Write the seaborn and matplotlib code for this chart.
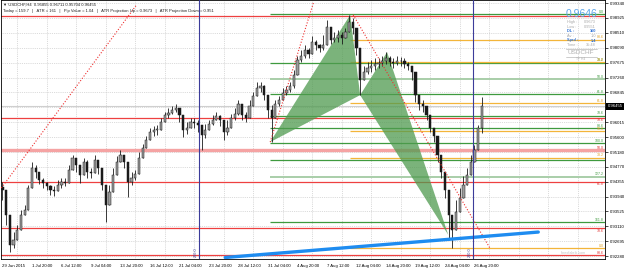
import matplotlib
matplotlib.use("Agg")
import matplotlib.pyplot as plt
import numpy as np
import pandas as pd
import seaborn as sns

# ---------------- data (USDCHF H4, one candle = 2 x H4 bars) ----------------
x_labels = ["29 Jun 2015", "1 Jul 20:00", "6 Jul 12:00", "9 Jul 04:00", "13 Jul 20:00",
            "16 Jul 12:00", "21 Jul 04:00", "23 Jul 20:00", "28 Jul 12:00", "31 Jul 04:00",
            "4 Aug 20:00", "7 Aug 12:00", "12 Aug 04:00", "14 Aug 20:00", "19 Aug 12:00",
            "24 Aug 04:00", "26 Aug 20:00"]
y_labels = ["0.99340", "0.98925", "0.98510", "0.98090", "0.97675", "0.97260", "0.96845",
            "0.96430", "0.96015", "0.95600", "0.95180", "0.94770", "0.94355", "0.93940",
            "0.93525", "0.93110", "0.92695", "0.92280"]

first_open = 0.9420
close = [0.9412, 0.9343, 0.9259, 0.9273, 0.9301, 0.9343, 0.9357, 0.9418, 0.9474, 0.9463,
         0.9440, 0.9432, 0.9423, 0.9412, 0.9410, 0.9426, 0.9435, 0.9432, 0.9468, 0.9502,
         0.9482, 0.9454, 0.9490, 0.9463, 0.9460, 0.9496, 0.9474, 0.9426, 0.9370, 0.9407,
         0.9454, 0.9490, 0.9510, 0.9490, 0.9435, 0.9446, 0.9457, 0.9502, 0.9529, 0.9552,
         0.9574, 0.9580, 0.9580, 0.9602, 0.9622, 0.9627, 0.9636, 0.9641, 0.9622, 0.9580,
         0.9585, 0.9602, 0.9599, 0.9594, 0.9566, 0.9580, 0.9596, 0.9608, 0.9619, 0.9608,
         0.9574, 0.9585, 0.9613, 0.9624, 0.9652, 0.9622, 0.9613, 0.9647, 0.9675, 0.9697,
         0.9702, 0.9677, 0.9636, 0.9613, 0.9652, 0.9663, 0.9683, 0.9691, 0.9702, 0.9733,
         0.9775, 0.9786, 0.9803, 0.9792, 0.9825, 0.9817, 0.9808, 0.9817, 0.9867, 0.9831,
         0.9836, 0.9845, 0.9836, 0.9853, 0.9881, 0.9864, 0.9808, 0.9719, 0.9742, 0.9753,
         0.9758, 0.9764, 0.9767, 0.9772, 0.9781, 0.9769, 0.9767, 0.9772, 0.9772, 0.9764,
         0.9758, 0.9742, 0.9677, 0.9652, 0.9647, 0.9622, 0.9585, 0.9563, 0.9510, 0.9463,
         0.9412, 0.9343, 0.9301, 0.9351, 0.9390, 0.9426, 0.9454, 0.9490, 0.9524, 0.9586,
         0.96455]
high = [0.9435, 0.9370, 0.9287, 0.9295, 0.9315, 0.9357, 0.9370, 0.9426, 0.9490, 0.9482,
        0.9454, 0.9446, 0.9435, 0.9426, 0.9423, 0.9440, 0.9446, 0.9446, 0.9482, 0.9510,
        0.9496, 0.9482, 0.9502, 0.9496, 0.9474, 0.9510, 0.9490, 0.9468, 0.9412, 0.9426,
        0.9474, 0.9507, 0.9524, 0.9510, 0.9482, 0.9463, 0.9468, 0.9518, 0.9541, 0.9563,
        0.9585, 0.9591, 0.9594, 0.9613, 0.9630, 0.9641, 0.9647, 0.9652, 0.9641, 0.9622,
        0.9602, 0.9613, 0.9613, 0.9608, 0.9594, 0.9596, 0.9608, 0.9622, 0.9630, 0.9622,
        0.9602, 0.9608, 0.9624, 0.9641, 0.9663, 0.9641, 0.9630, 0.9663, 0.9686, 0.9714,
        0.9714, 0.9705, 0.9669, 0.9649, 0.9663, 0.9675, 0.9697, 0.9702, 0.9714, 0.9747,
        0.9786, 0.9803, 0.9817, 0.9808, 0.9842, 0.9831, 0.9820, 0.9845, 0.9887, 0.9859,
        0.9853, 0.9859, 0.9853, 0.9864, 0.9901, 0.9892, 0.9859, 0.9803, 0.9758, 0.9769,
        0.9775, 0.9781, 0.9781, 0.9786, 0.9797, 0.9786, 0.9781, 0.9786, 0.9783, 0.9781,
        0.9769, 0.9758, 0.9733, 0.9669, 0.9663, 0.9641, 0.9622, 0.9580, 0.9552, 0.9496,
        0.9451, 0.9398, 0.9343, 0.9384, 0.9418, 0.9451, 0.9474, 0.9510, 0.9538, 0.9594,
        0.96711]
low = [0.9384, 0.9315, 0.9239, 0.9250, 0.9284, 0.9323, 0.9343, 0.9370, 0.9440, 0.9446,
       0.9429, 0.9418, 0.9412, 0.9398, 0.9396, 0.9412, 0.9418, 0.9423, 0.9440, 0.9482,
       0.9463, 0.9432, 0.9468, 0.9446, 0.9446, 0.9479, 0.9457, 0.9412, 0.9323, 0.9384,
       0.9407, 0.9468, 0.9490, 0.9474, 0.9393, 0.9426, 0.9440, 0.9482, 0.9507, 0.9529,
       0.9552, 0.9563, 0.9566, 0.9585, 0.9608, 0.9613, 0.9624, 0.9630, 0.9602, 0.9560,
       0.9569, 0.9585, 0.9585, 0.9574, 0.9524, 0.9557, 0.9580, 0.9594, 0.9608, 0.9591,
       0.9552, 0.9566, 0.9596, 0.9608, 0.9622, 0.9608, 0.9602, 0.9613, 0.9658, 0.9677,
       0.9686, 0.9663, 0.9613, 0.9546, 0.9630, 0.9647, 0.9669, 0.9677, 0.9686, 0.9697,
       0.9742, 0.9769, 0.9781, 0.9781, 0.9803, 0.9803, 0.9797, 0.9803, 0.9845, 0.9820,
       0.9825, 0.9825, 0.9820, 0.9836, 0.9864, 0.9848, 0.9789, 0.9677, 0.9725, 0.9736,
       0.9742, 0.9747, 0.9753, 0.9758, 0.9764, 0.9758, 0.9753, 0.9761, 0.9758, 0.9753,
       0.9747, 0.9719, 0.9658, 0.9636, 0.9630, 0.9608, 0.9574, 0.9546, 0.9490, 0.9446,
       0.9390, 0.9273, 0.9250, 0.9315, 0.9362, 0.9398, 0.9435, 0.9463, 0.9502, 0.9529,
       0.95704]

# harmonic pattern X A B C D (candle index, price)
pattern_j = [72.6, 94.3, 97.0, 104.3, 120.9]
pattern_p = [0.9546, 0.9901, 0.9677, 0.9797, 0.9287]

# trend lines (start j, start p, end j, end p)
red_dotted = [(-0.3, 0.9418, 36.3, 0.9928),
              (72.6, 0.9546, 84.3, 0.9934),
              (95.1, 0.9901, 132.2, 0.9250)]
blue_line = (60.4, 0.9224, 145.3, 0.9295)
vlines_j = [53.4, 127.7]

green_levels = [0.9903, 0.9767, 0.9722, 0.9680, 0.9619, 0.9585, 0.9543, 0.9496, 0.9449, 0.9323]
green_labels = ["0.0", "38.2", "50.0", "61.8", "78.6", "88.6", "100.0", "", "127.2", "161.8"]
orange_levels = [0.9831, 0.9769, 0.9655, 0.9577, 0.9502, 0.9250]
orange_labels = ["88.6", "78.6", "61.8", "50.0", "38.2", "0.0"]
red_levels = [0.9899, 0.9613, 0.9524, 0.9435, 0.9306, 0.9231]
red_labels = ["", "78.6", "50.0", "61.8", "78.6", "88.6"]
current_price = 0.96455

# ---------------- figure ----------------
sns.set_style("white")
plt.rcParams['font.family'] = ['Liberation Sans', 'DejaVu Sans']

W, H = 625, 269
fig = plt.figure(figsize=(W / 100, H / 100), dpi=100)
fig.patch.set_facecolor("white")
ax = fig.add_axes([0.5 / W, 10 / H, 604.5 / W, 259 / H])
XMIN, XMAX = -0.54, 163.4
ax.set_xlim(XMIN, XMAX)
ax.set_ylim(0.92198, 0.99424)

# grid (dotted)
yt = [float(v) for v in y_labels]
for v in yt:
    ax.axhline(v, color="#c4c4c4", lw=0.5, ls=(0, (1.2, 1.5)), zorder=0)
for k in range(0, 21):
    ax.axvline(4 + 8 * k, color="#c4c4c4", lw=0.5, ls=(0, (1.2, 1.5)), zorder=0)

# full-width red levels
for lv in red_levels:
    if abs(lv - 0.9524) < 1e-6:
        ax.axhline(lv, color="#f5a3a3", lw=2.4, zorder=1)
    else:
        ax.axhline(lv, color="#ee4040", lw=0.9, zorder=1)
# current price line
ax.axhline(current_price, color="#cfcfcf", lw=0.8, zorder=1)

# green levels (from X)
gdf = pd.DataFrame({"level": green_levels, "label": green_labels})
for lv, lb in zip(gdf.level, gdf.label):
    light = lb in ("50.0", "127.2")
    ax.hlines(lv, pattern_j[0], XMAX, color="#a9cea9" if light else "#3e9a3e",
              lw=1.4 if light else 0.9, zorder=2)
    if lb:
        ax.text(XMAX - 0.3, lv + 0.00012, lb, fontsize=2.5, color="#3e9a3e", ha="right", va="bottom")
for lv, lb in zip(orange_levels, orange_labels):
    ax.hlines(lv, pattern_j[1], XMAX, color="#f3b53a", lw=0.9, zorder=2)
    ax.text(XMAX - 0.3, lv + 0.00012, lb, fontsize=2.5, color="#e0a020", ha="right", va="bottom")
for i, (lv, lb) in enumerate(zip(red_levels, red_labels)):
    if not lb:
        continue
    above = lb == "50.0" or i == len(red_levels) - 1
    ax.text(XMAX - 0.3, lv + (0.00012 if above else -0.00012), lb, fontsize=2.5, color="#e03030",
            ha="right", va="bottom" if above else "top")

# harmonic pattern triangles
ax.fill(pattern_j[0:3], pattern_p[0:3], color="#4f9a4f", alpha=0.75, lw=0, zorder=3)
ax.fill(pattern_j[2:5], pattern_p[2:5], color="#4f9a4f", alpha=0.75, lw=0, zorder=3)

# candles
c = np.array(close)
o = np.concatenate([[first_open], c[:-1]])
hi = np.maximum(np.array(high), np.maximum(o, c))
lo = np.minimum(np.array(low), np.minimum(o, c))
idx = np.arange(len(c))
ax.vlines(idx, lo, hi, color="#1a1a1a", lw=0.6, zorder=4)
up = c >= o
body = np.where(np.abs(c - o) < 0.00012, 0.00012, c - o)
ax.bar(idx[up], body[up], bottom=o[up], width=0.6, color="#9c9c9c", edgecolor="#1a1a1a", lw=0.35, zorder=5)
ax.bar(idx[~up], body[~up], bottom=o[~up], width=0.6, color="#1a1a1a", edgecolor="#1a1a1a", lw=0.35, zorder=5)

# red dotted trend lines
for (j0, p0, j1, p1) in red_dotted:
    sns.lineplot(x=[j0, j1], y=[p0, p1], ax=ax, color="#ee3030", lw=0.8, ls=(0, (1, 1.6)),
                 sort=False, zorder=6, legend=False)
# blue support line
sns.lineplot(x=[blue_line[0], blue_line[2]], y=[blue_line[1], blue_line[3]], ax=ax,
             color="#1e8cf0", lw=2.4, sort=False, zorder=6, legend=False)

# vertical lines
for vj in vlines_j:
    ax.axvline(vj, color="#3c3c9a", lw=0.8, zorder=6)
    ax.text(vj - 0.5, 0.9224, "200.0", rotation=90, fontsize=2.8, color="#3c3c9a",
            ha="right", va="bottom")

# axes styling (the 0.96430 label sits under the current-price box)
ax.yaxis.tick_right()
ax.set_yticks(yt)
ax.set_yticklabels([("" if s == "0.96430" else s) for s in y_labels], fontsize=3.1)
ax.set_xticks([8 * k for k in range(len(x_labels))])
ax.set_xticklabels(x_labels, fontsize=3.1, ha="left")
ax.tick_params(axis="both", length=2, width=0.5, pad=1.2, colors="black")
ax.tick_params(axis="x", pad=1.5)
for s in ax.spines.values():
    s.set_color("black")
    s.set_linewidth(0.6)
ax.set_xlabel("")
ax.set_ylabel("")

# current price box
ax.text(1.004, current_price, "0.96455", transform=ax.get_yaxis_transform(), fontsize=3.1,
        color="white", ha="left", va="center", zorder=10, clip_on=False,
        bbox=dict(facecolor="black", edgecolor="none", pad=0.9))

# header texts
def ftext(x, y, s, **kw):
    fig.text(x / W, 1 - y / H, s, **kw)

ftext(3, 5, "\u25bc USDCHF,H4  0.95855 0.96711 0.95704 0.96455", fontsize=3.0, va="center",
      color="#202020")
ftext(3, 11, "Today = 159.7   |   ATR = 161   |   Pip Value = 1.04   |   ATR Projection Up = 0.9673"
      "   |   ATR Projection Down = 0.951", fontsize=3.0, va="center", color="#202020")

# info panel (top right)
ftext(581, 14, "0.9646", fontsize=7.5, color="#5aa5ea", ha="center", va="center")
rows = [("High :", "0.9673", "#a8a8a8", "normal", 22),
        ("Low :", "0.9551", "#a8a8a8", "normal", 27),
        ("DL :", "160", "#2f72d6", "bold", 31.5),
        ("Av :", "1.0", "#a8a8a8", "normal", 36),
        ("Sprd :", "1.4", "#2f72d6", "bold", 40.5),
        ("Time :", "35:48", "#a8a8a8", "normal", 45)]
for lab, val, col, wt, yy in rows:
    ftext(567, yy, lab, fontsize=2.8, color=col, fontweight=wt, va="center")
    ftext(596, yy, val, fontsize=2.8, color=col, fontweight=wt, va="center", ha="right")
ftext(581, 52.5, "USDCHF", fontsize=4.6, color="#b0b0b0", ha="center", va="center")
ftext(581, 59, "TF H4", fontsize=2.4, color="#b0b0b0", ha="center", va="center")
fig.add_artist(plt.Line2D([566 / W, 597 / W], [1 - 48.5 / H, 1 - 48.5 / H], color="#b8b8b8", lw=0.5))
fig.add_artist(plt.Line2D([566 / W, 597 / W], [1 - 56.5 / H, 1 - 56.5 / H], color="#b8b8b8", lw=0.5))

# watermark
ftext(586, 253, "forexfabrik.com", fontsize=2.6, color="#c0c0c0", ha="right", va="center")

fig.savefig("out.png", dpi=100)
